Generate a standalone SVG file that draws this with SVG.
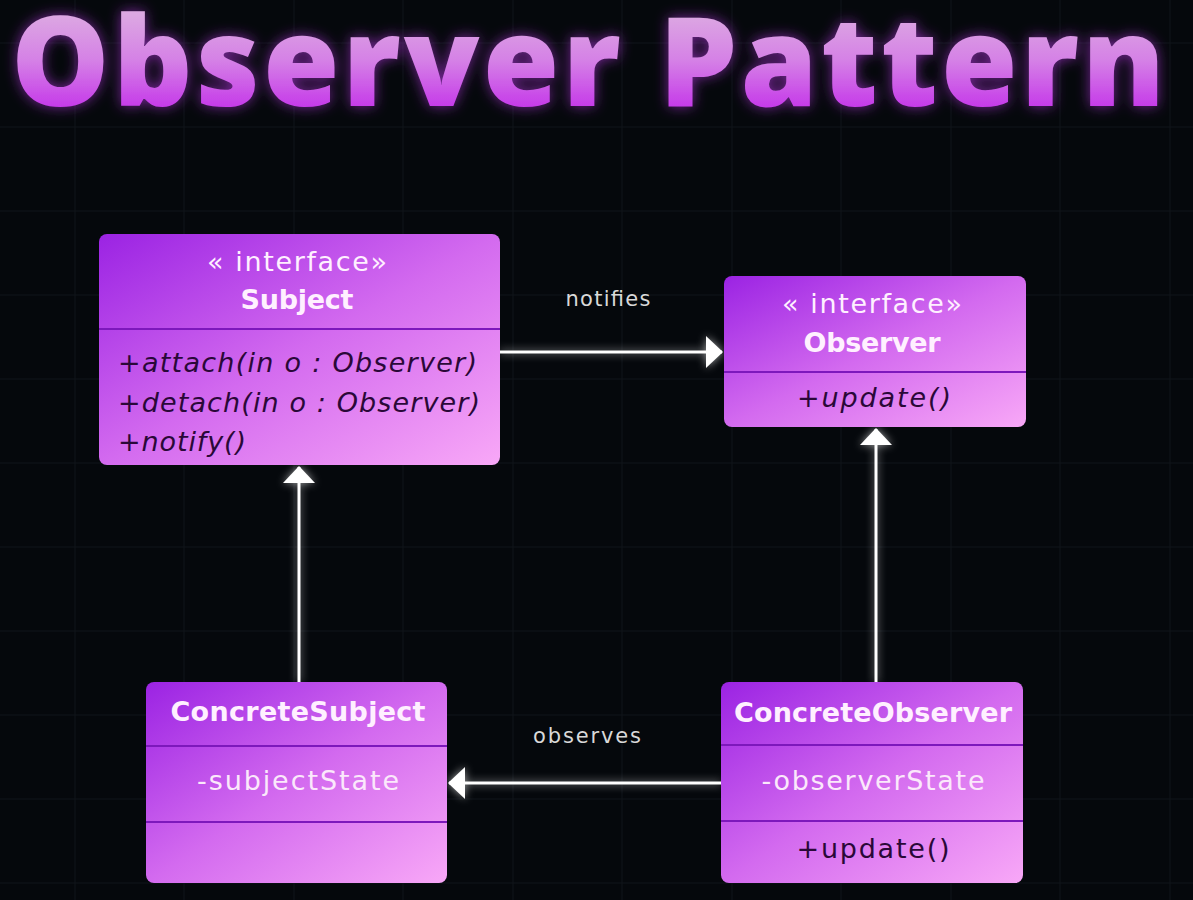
<svg xmlns="http://www.w3.org/2000/svg" width="1193" height="900" viewBox="0 0 1193 900">
  <defs>
    <linearGradient id="titleGrad" gradientUnits="userSpaceOnUse" x1="0" y1="14" x2="0" y2="106">
      <stop offset="0" stop-color="#dca8e2"/>
      <stop offset="0.5" stop-color="#d581e6"/>
      <stop offset="1" stop-color="#c63ce9"/>
    </linearGradient>
    <linearGradient id="boxGrad" x1="0" y1="0" x2="1" y2="1">
      <stop offset="0" stop-color="#9b23e3"/>
      <stop offset="0.5" stop-color="#d36aef"/>
      <stop offset="1" stop-color="#f8a8f7"/>
    </linearGradient>
    <filter id="titleGlow" x="-10%" y="-40%" width="120%" height="180%">
      <feGaussianBlur in="SourceAlpha" stdDeviation="7" result="b"/>
      <feFlood flood-color="#a030c8" flood-opacity="0.75"/>
      <feComposite in2="b" operator="in" result="g"/>
      <feMerge><feMergeNode in="g"/><feMergeNode in="SourceGraphic"/></feMerge>
    </filter>
    <filter id="lineGlow" x="-20%" y="-20%" width="140%" height="140%">
      <feGaussianBlur in="SourceGraphic" stdDeviation="4" result="b"/>
      <feComponentTransfer in="b" result="bb"><feFuncA type="linear" slope="0.6"/></feComponentTransfer>
      <feMerge><feMergeNode in="bb"/><feMergeNode in="SourceGraphic"/></feMerge>
    </filter>
    <marker id="arrow" markerUnits="userSpaceOnUse" viewBox="0 0 17 32" refX="16" refY="16" markerWidth="17" markerHeight="32" orient="auto">
      <path d="M0,0 L17,16 L0,32 Z" fill="#ffffff"/>
    </marker>
    <style>
      .grid { stroke: #10151b; stroke-width: 1; }
      .box { fill: url(#boxGrad); }
      .div { stroke: #7d18bc; stroke-width: 2; }
      .hdr { font-family: "DejaVu Sans", "Open Sans", sans-serif; font-size: 27px; fill: #fff0ff; text-anchor: middle; }
      .bold { font-weight: 700; }
      .meth { font-family: "DejaVu Sans", "Open Sans", sans-serif; font-size: 27px; font-style: italic; fill: #2a0838; }
      .attr { font-family: "DejaVu Sans", "Open Sans", sans-serif; font-size: 27px; fill: #fbe8fb; text-anchor: middle; }
      .op { font-family: "DejaVu Sans", "Open Sans", sans-serif; font-size: 27px; fill: #2a0838; text-anchor: middle; }
      .conn { stroke: #ffffff; stroke-width: 3; fill: none; }
      .lbl { font-family: "DejaVu Sans", "Open Sans", sans-serif; font-size: 21px; fill: #d9d9d9; text-anchor: middle; }
    </style>
  </defs>

  <rect x="0" y="0" width="1193" height="900" fill="#05080c"/>

  <g id="grid">
    <path class="grid" d="M75,0V900 M184,0V900 M294,0V900 M403,0V900 M513,0V900 M622,0V900 M732,0V900 M841,0V900 M951,0V900 M1060,0V900 M1170,0V900"/>
    <path class="grid" d="M0,43H1193 M0,127H1193 M0,211H1193 M0,295H1193 M0,379H1193 M0,463H1193 M0,547H1193 M0,631H1193 M0,715H1193 M0,799H1193 M0,883H1193"/>
  </g>

  <g id="title" filter="url(#titleGlow)">
    <text x="11" y="106" font-family="'Open Sans', 'Noto Sans', sans-serif" font-size="124" font-weight="800" fill="url(#titleGrad)" textLength="1154">Observer Pattern</text>
  </g>

  <g id="connectors" filter="url(#lineGlow)">
    <line class="conn" x1="500" y1="352" x2="722" y2="352" marker-end="url(#arrow)"/>
    <line class="conn" x1="299" y1="682" x2="299" y2="467" marker-end="url(#arrow)"/>
    <line class="conn" x1="876" y1="682" x2="876" y2="429" marker-end="url(#arrow)"/>
    <line class="conn" x1="721" y1="783" x2="449" y2="783" marker-end="url(#arrow)"/>
  </g>
  <g id="connector-labels">
    <text class="lbl" x="608" y="306" textLength="85">notifies</text>
    <text class="lbl" x="587" y="743" textLength="108">observes</text>
  </g>

  <g id="subject">
    <rect class="box" x="99" y="234" width="401" height="231" rx="8"/>
    <line class="div" x1="99" y1="329" x2="500" y2="329"/>
    <text class="hdr" x="297" y="271" textLength="180">« interface»</text>
    <text class="hdr bold" x="297" y="309" textLength="113">Subject</text>
    <text class="meth" x="118" y="372" textLength="359">+attach(in o : Observer)</text>
    <text class="meth" x="118" y="412" textLength="362">+detach(in o : Observer)</text>
    <text class="meth" x="118" y="451" textLength="128">+notify()</text>
  </g>

  <g id="observer">
    <rect class="box" x="724" y="276" width="302" height="151" rx="8"/>
    <line class="div" x1="724" y1="372" x2="1026" y2="372"/>
    <text class="hdr" x="872" y="313" textLength="180">« interface»</text>
    <text class="hdr bold" x="872" y="352" textLength="137">Observer</text>
    <text class="meth" x="874" y="407" text-anchor="middle" textLength="154">+update()</text>
  </g>

  <g id="concrete-subject">
    <rect class="box" x="146" y="682" width="301" height="201" rx="8"/>
    <line class="div" x1="146" y1="746" x2="447" y2="746"/>
    <line class="div" x1="146" y1="822" x2="447" y2="822"/>
    <text class="hdr bold" x="298" y="721" textLength="255">ConcreteSubject</text>
    <text class="attr" x="298" y="790" textLength="202">-subjectState</text>
  </g>

  <g id="concrete-observer">
    <rect class="box" x="721" y="682" width="302" height="201" rx="8"/>
    <line class="div" x1="721" y1="745" x2="1023" y2="745"/>
    <line class="div" x1="721" y1="821" x2="1023" y2="821"/>
    <text class="hdr bold" x="873" y="722" textLength="278">ConcreteObserver</text>
    <text class="attr" x="873" y="790" textLength="223">-observerState</text>
    <text class="op" x="873" y="858" textLength="153">+update()</text>
  </g>
</svg>
